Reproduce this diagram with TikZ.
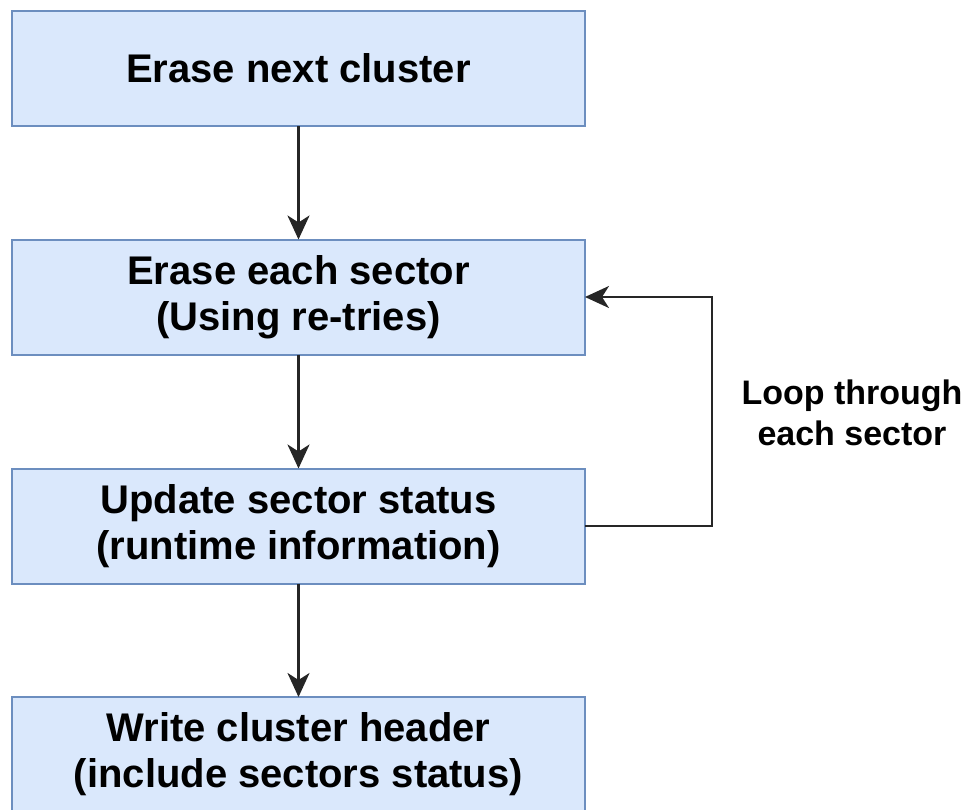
\documentclass[tikz,border=0pt]{standalone}
\usepackage{fontspec}
\setmainfont{Liberation Sans}
\usetikzlibrary{arrows.meta}
\definecolor{boxfill}{HTML}{DAE8FC}
\definecolor{boxdraw}{HTML}{6C8EBF}
\tikzset{
  stepbox/.style={draw=boxdraw, fill=boxfill, line width=2pt, rectangle,
    minimum width=573pt, minimum height=115pt, inner sep=0pt, outer sep=0pt,
    align=center, font=\fontsize{40}{46}\selectfont\bfseries},
  conn/.style={line width=2.5pt, draw=black!85,
    -{Stealth[length=24pt,width=22pt,inset=7pt]}},
  lbl/.style={align=center, font=\fontsize{34}{41}\selectfont\bfseries}
}
\begin{document}
\begin{tikzpicture}[x=1pt,y=-1pt]
\useasboundingbox (0,0) rectangle (966,809);
\node[stepbox] (b1) at (298.5,68.5) {Erase next cluster};
\node[stepbox] (b2) at (298.5,297) {Erase each sector\\(Using re-tries)};
\node[stepbox] (b3) at (298.5,526) {Update sector status\\(runtime information)};
\node[stepbox] (b4) at (298.5,754.5) {Write cluster header\\(include sectors status)};
\coordinate (loopx) at (712,0);
\draw[conn] (b1) -- (b2);
\draw[conn] (b2) -- (b3);
\draw[conn] (b3) -- (b4);
\draw[conn] (b3.east) -- (b3.east -| loopx) -- (b2.east -| loopx) -- (b2.east);
\node[lbl] (lp) at (852,413) {Loop through\\each sector};
\end{tikzpicture}
\end{document}
